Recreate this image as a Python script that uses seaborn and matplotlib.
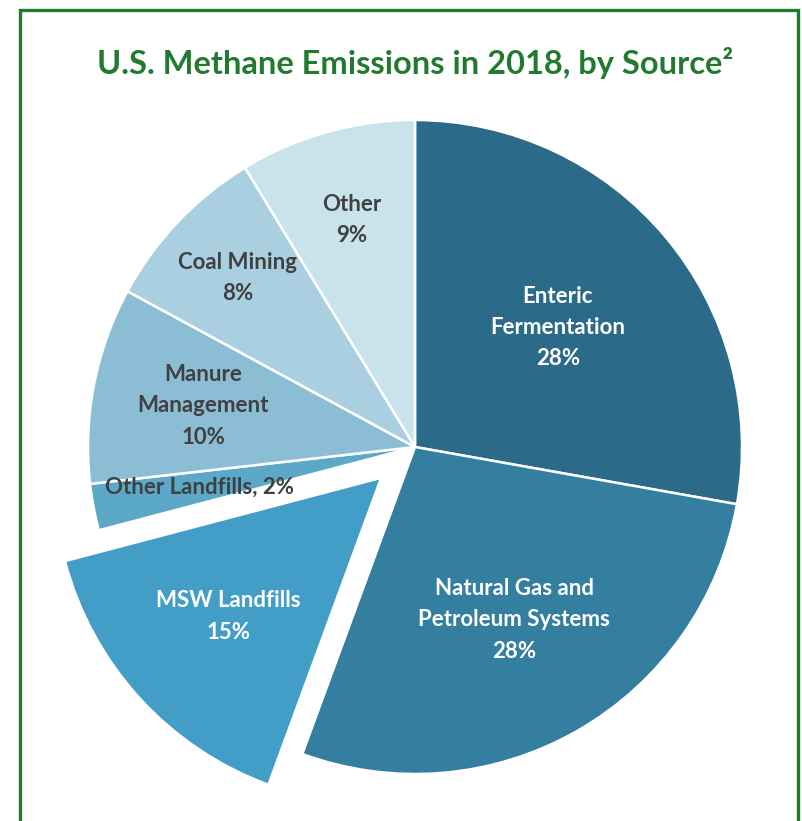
import matplotlib.pyplot as plt
import numpy as np
import seaborn as sns
from matplotlib.patches import Rectangle

# data
sources = [
    "Enteric\nFermentation",
    "Natural Gas and\nPetroleum Systems",
    "MSW Landfills",
    "Other Landfills",
    "Manure\nManagement",
    "Coal Mining",
    "Other",
]
shares = [27.8, 27.8, 15.3, 2.3, 9.7, 8.4, 8.7]
shown_pct = [28, 28, 15, 2, 10, 8, 9]
inline_label = [False, False, False, True, False, False, False]

# styling
colors = ["#2b6a88", "#347ea0", "#429ec6", "#5ba8c9", "#8bbed4", "#a9cfe0", "#c9e2eb"]
text_colors = ["white", "white", "white", "#404040", "#404040", "#404040", "#404040"]
label_r = [0.57, 0.61, 0.63, 0.67, 0.66, 0.75, 0.72]
explode = [0, 0, 0.14, 0, 0, 0, 0]

sns.set_theme(style="white")
plt.rcParams["font.family"] = ["Lato", "DejaVu Sans"]

W, H = 802, 821
fig = plt.figure(figsize=(W / 100, H / 100), dpi=100)
fig.patch.set_facecolor("white")

# pie centre at (415, 447) px, radius 327 px
R = 327
lim = 1.15
side = 2 * lim * R
ax = fig.add_axes([(415 - side / 2) / W, (H - 447 - side / 2) / H, side / W, side / H])

wedges, _ = ax.pie(
    shares,
    colors=colors,
    startangle=90,
    counterclock=False,
    explode=explode,
    wedgeprops=dict(edgecolor="white", linewidth=1.8),
)
ax.set_xlim(-lim, lim)
ax.set_ylim(-lim, lim)
ax.axis("off")

for i, w in enumerate(wedges):
    theta = np.deg2rad((w.theta1 + w.theta2) / 2)
    cx, cy = w.center
    x = cx + label_r[i] * w.r * np.cos(theta)
    y = cy + label_r[i] * w.r * np.sin(theta)
    if inline_label[i]:
        txt = f"{sources[i]}, {shown_pct[i]}%"
    else:
        txt = f"{sources[i]}\n{shown_pct[i]}%"
    ax.text(x, y, txt, ha="center", va="center", fontsize=16, fontweight="bold",
            color=text_colors[i], linespacing=1.6)

fig.text(415 / W, 1 - 63 / H, "U.S. Methane Emissions in 2018, by Source²",
         ha="center", va="center", fontsize=23.5, fontweight="bold", color="#217a2f")

border = Rectangle((19.5 / W, -0.05), (798 - 19.5) / W, 1.05 - 10.5 / H,
                   transform=fig.transFigure, fill=False, edgecolor="#217a2f",
                   linewidth=2.4, clip_on=False)
fig.patches.append(border)

fig.savefig("out.png", dpi=100)
